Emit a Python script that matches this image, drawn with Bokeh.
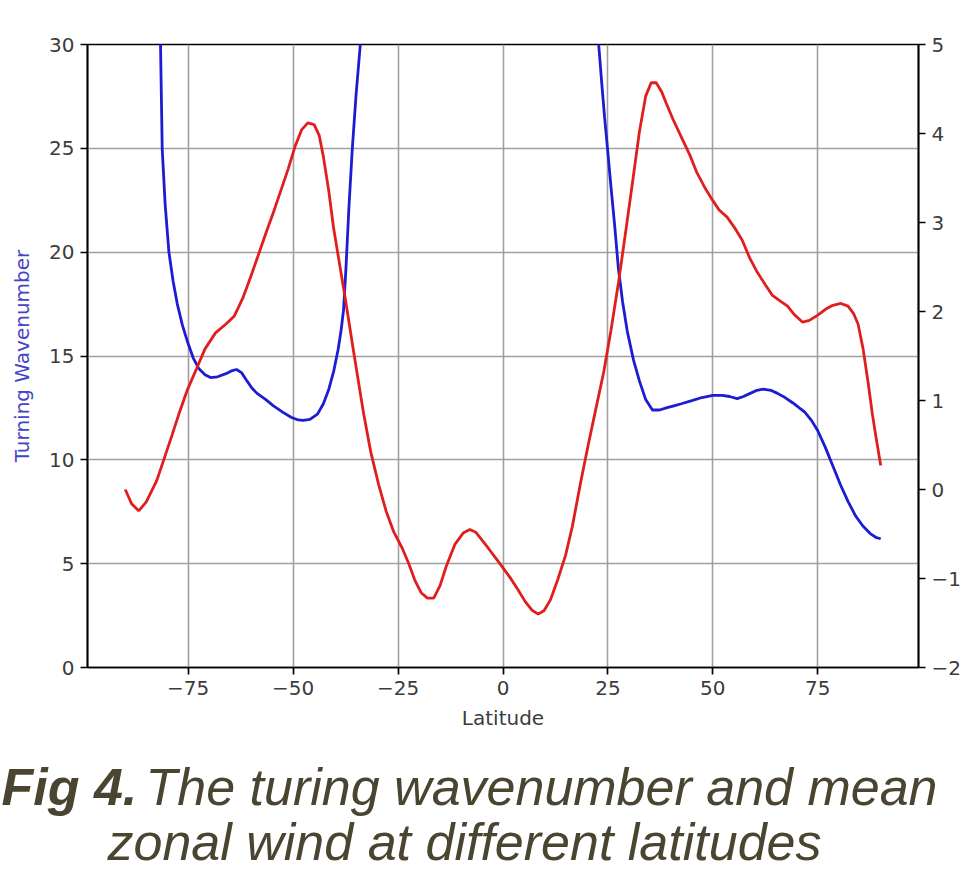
from bokeh.plotting import figure
from bokeh.models import Range1d, LinearAxis, FixedTicker, Label
from bokeh.layouts import column
from bokeh.embed import file_html
from bokeh.resources import INLINE

NaN = float("nan")

# ---- data ----
# Turning wavenumber (left axis); values above 30 run off the top of the plot
blue_lat = [-82.0, -81.6, -81.4, -81.2, -80.5, -79.6, -78.6, -77.6, -76.4, -75.2,
            -73.8, -72.5, -71.0, -69.7, -68.0, -66.0, -64.5, -63.5, -62.3, -61.0,
            -59.8, -58.6, -56.5, -54.7, -52.5, -50.5, -48.8, -47.6, -46.0, -44.2,
            -42.8, -41.5, -40.3, -39.3, -38.6, -38.0, -37.4, -36.7, -35.9, -35.0,
            -34.0, -33.4,
            0.0,
            22.0, 22.8, 23.5, 24.2, 24.9, 25.7, 26.6, 27.5, 28.5, 29.6,
            31.1, 32.5, 34.0, 35.6, 37.3, 38.9, 40.7, 42.5, 45.0, 47.4,
            50.0, 52.2, 54.0, 55.8, 57.3, 58.9, 60.5, 62.0, 63.8, 65.4,
            67.2, 69.0, 70.6, 71.9, 73.5, 75.0, 76.8, 78.6, 80.4, 82.2,
            84.0, 85.8, 87.5, 89.0, 90.0]
blue_val = [33.0, 30.0, 27.5, 25.0, 22.3, 20.0, 18.6, 17.5, 16.5, 15.7,
            14.9, 14.4, 14.1, 13.96, 14.0, 14.15, 14.3, 14.35, 14.2, 13.8,
            13.45, 13.2, 12.9, 12.6, 12.3, 12.05, 11.92, 11.9, 11.95, 12.2,
            12.7, 13.4, 14.3, 15.3, 16.2, 17.2, 19.3, 22.2, 25.0, 27.6,
            30.0, 33.0,
            NaN,
            33.0, 30.0, 28.2, 26.5, 25.0, 23.2, 21.3, 19.2, 17.6, 16.2,
            14.8, 13.8, 12.9, 12.4, 12.4, 12.5, 12.6, 12.7, 12.85, 13.0,
            13.1, 13.1, 13.05, 12.95, 13.05, 13.2, 13.35, 13.4, 13.35, 13.2,
            13.0, 12.75, 12.5, 12.3, 11.9, 11.4, 10.6, 9.7, 8.8, 8.0,
            7.3, 6.8, 6.45, 6.25, 6.2]

# Mean zonal wind (right axis)
red_lat = [-90.0, -88.5, -86.8, -85.0, -82.5, -80.5, -78.8, -77.0, -75.2, -73.0,
           -71.0, -68.5, -66.0, -64.0, -62.0, -60.2, -58.4, -56.5, -54.8, -53.0,
           -51.2, -49.5, -48.0, -46.5, -45.0, -43.8, -42.8, -41.5, -40.4, -39.0,
           -37.5, -35.6, -33.2, -31.5, -29.6, -27.8, -26.0, -24.0, -22.4, -21.0,
           -19.5, -18.0, -16.5, -15.0, -13.5, -11.5, -9.5, -7.9, -6.5, -5.0,
           -3.5, -1.9, 0.0, 1.7, 3.5, 5.3, 7.0, 8.4, 9.8, 11.3,
           13.0, 14.9, 16.5, 18.5, 20.3, 22.1, 24.0, 25.7, 27.5, 29.3,
           31.0, 32.5, 34.0, 35.3, 36.5, 37.8, 38.9, 40.5, 42.5, 44.5,
           46.2, 48.0, 49.8, 51.5, 53.4, 55.2, 57.0, 58.8, 60.6, 62.5,
           64.2, 66.0, 67.8, 69.5, 71.4, 73.0, 75.0, 77.0, 78.6, 80.5,
           82.2, 83.5, 84.6, 85.8, 87.0, 88.0, 89.0, 90.0]
red_val = [0.00, -0.16, -0.24, -0.14, 0.10, 0.38, 0.62, 0.88, 1.12, 1.36,
           1.58, 1.76, 1.86, 1.95, 2.15, 2.38, 2.62, 2.88, 3.10, 3.35,
           3.60, 3.86, 4.04, 4.12, 4.10, 3.98, 3.74, 3.35, 2.95, 2.55,
           2.12, 1.55, 0.85, 0.42, 0.05, -0.25, -0.48, -0.66, -0.84, -1.02,
           -1.16, -1.22, -1.22, -1.08, -0.86, -0.62, -0.49, -0.45, -0.48, -0.57,
           -0.66, -0.76, -0.88, -0.99, -1.12, -1.26, -1.36, -1.40, -1.36, -1.24,
           -1.02, -0.74, -0.42, 0.08, 0.50, 0.90, 1.32, 1.78, 2.32, 2.92,
           3.50, 4.02, 4.42, 4.57, 4.57, 4.47, 4.34, 4.16, 3.96, 3.76,
           3.56, 3.40, 3.26, 3.14, 3.06, 2.94, 2.80, 2.60, 2.44, 2.30,
           2.18, 2.12, 2.06, 1.96, 1.88, 1.90, 1.96, 2.03, 2.07, 2.09,
           2.06, 1.98, 1.86, 1.58, 1.20, 0.85, 0.55, 0.27]

x_ticks = [-75, -50, -25, 0, 25, 50, 75]
left_ticks = [0, 5, 10, 15, 20, 25, 30]
right_ticks = [-2, -1, 0, 1, 2, 3, 4, 5]

caption_bold = "Fig 4."
caption_line1 = "The turing wavenumber and mean"
caption_line2 = "zonal wind at different latitudes"

def mfmt(v):
    return ("\u2212" + str(abs(v))) if v < 0 else str(v)

TICK_FONT = "DejaVu Sans"
TICK_COLOR = "#3c3c3c"

p = figure(width=967, height=745, output_backend="svg", toolbar_location=None,
           x_range=Range1d(-99, 99), y_range=Range1d(0, 30),
           min_border_left=87, min_border_right=49, min_border_top=44,
           min_border_bottom=78)
p.frame_align = False
p.extra_y_ranges = {"right": Range1d(-2, 5)}

p.background_fill_color = "white"
p.border_fill_color = "white"
p.outline_line_color = "black"
p.outline_line_width = 1.7

# grid
p.xgrid.ticker = FixedTicker(ticks=x_ticks)
p.ygrid.ticker = FixedTicker(ticks=left_ticks)
for g in (p.xgrid, p.ygrid):
    g.grid_line_color = "#a0a0a0"
    g.grid_line_width = 1.6

def style_axis(ax):
    ax.major_label_text_font = TICK_FONT
    ax.major_label_text_font_size = "20px"
    ax.major_label_text_color = TICK_COLOR
    ax.axis_line_color = "black"
    ax.axis_line_width = 1.7
    ax.major_tick_line_color = "black"
    ax.major_tick_line_width = 1.7
    ax.major_tick_out = 7
    ax.major_tick_in = 0
    ax.minor_tick_out = 0
    ax.minor_tick_in = 0
    ax.major_label_standoff = 6
    ax.axis_label_text_font = TICK_FONT
    ax.axis_label_text_font_size = "20px"
    ax.axis_label_text_font_style = "normal"

xa = p.xaxis[0]
xa.ticker = FixedTicker(ticks=x_ticks)
xa.major_label_overrides = {v: mfmt(v) for v in x_ticks}
xa.axis_label = "Latitude"
style_axis(xa)
xa.axis_label_text_color = TICK_COLOR
xa.axis_label_standoff = 8

ya = p.yaxis[0]
ya.ticker = FixedTicker(ticks=left_ticks)
ya.axis_label = "Turning Wavenumber"
style_axis(ya)
ya.axis_label_text_color = "#4545c8"
ya.axis_label_standoff = 12

ra = LinearAxis(y_range_name="right", ticker=FixedTicker(ticks=right_ticks))
ra.major_label_overrides = {v: mfmt(v) for v in right_ticks}
style_axis(ra)
p.add_layout(ra, "right")

# lines
p.line(blue_lat, blue_val, line_color="#1c1cd2", line_width=2.8)
p.line(red_lat, red_val, line_color="#e01e1e", line_width=2.8, y_range_name="right")

# caption panel below the chart (coordinates = pixels from its top-left)
cap = figure(width=967, height=128, output_backend="svg", toolbar_location=None,
             x_range=Range1d(0, 967), y_range=Range1d(128, 0),
             x_axis_location=None, y_axis_location=None,
             min_border=0, min_border_left=0, min_border_right=0,
             min_border_top=0, min_border_bottom=0)
cap.frame_align = False
cap.outline_line_color = None
cap.xgrid.visible = False
cap.ygrid.visible = False
cap.background_fill_color = "white"
cap.border_fill_color = "white"

CAP_COLOR = "#4a4530"
cap.add_layout(Label(x=1, y=41, text=caption_bold, text_font="Liberation Sans",
                     text_font_size="52px", text_font_style="bold italic",
                     text_color=CAP_COLOR, text_align="left", text_baseline="alphabetic"))
cap.add_layout(Label(x=145, y=41, text=caption_line1, text_font="Liberation Sans",
                     text_font_size="52px", text_font_style="italic",
                     text_color=CAP_COLOR, text_align="left", text_baseline="alphabetic"))
cap.add_layout(Label(x=464, y=96, text=caption_line2, text_font="Liberation Sans",
                     text_font_size="52px", text_font_style="italic",
                     text_color=CAP_COLOR, text_align="center", text_baseline="alphabetic"))

layout = column(p, cap, spacing=0)
open("out.html", "w").write(file_html(layout, INLINE))
